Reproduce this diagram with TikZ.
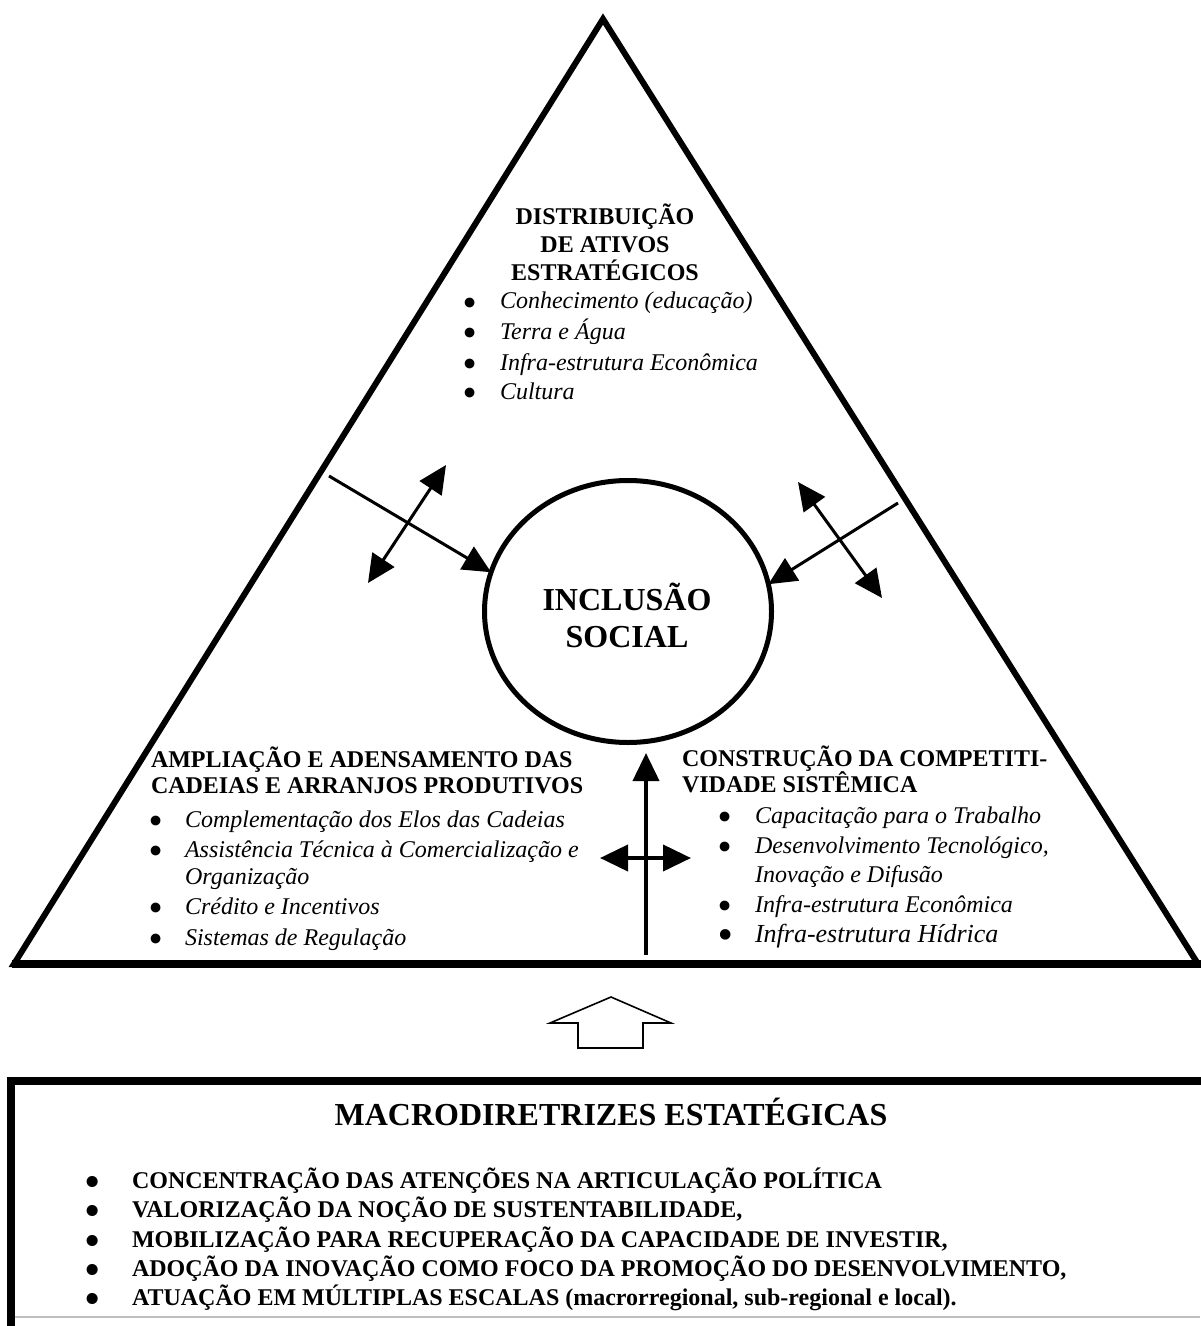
\documentclass[tikz,border=0pt]{standalone}
\usepackage{fontspec}
\setmainfont{Liberation Serif}
\usepackage{graphicx}
\usepackage{tikz}
\usetikzlibrary{arrows.meta, shapes}
\newcommand{\bigdot}{\smash{\raisebox{-3.6pt}{\scalebox{1.7}{\textbullet}}}}

\begin{document}
\begin{tikzpicture}[x=0.5pt, y=-0.5pt, line join=miter,
        every node/.style = {inner sep=0pt, outer sep=0pt, anchor=base west},
        hdr/.style = {font=\fontsize{12pt}{14pt}\selectfont\bfseries},
        lst/.style = {font=\fontsize{12pt}{14pt}\selectfont\itshape},
        boxlst/.style = {font=\fontsize{12pt}{14pt}\selectfont\bfseries},
        bighdr/.style = {anchor=base, font=\fontsize{16pt}{19pt}\selectfont\bfseries},
        oneway/.style = {line width=1.5pt, -{Triangle[length=14pt, width=13pt]}},
        twoway/.style = {line width=1.5pt, {Triangle[length=14pt, width=13pt]}-{Triangle[length=14pt, width=13pt]}}]
        \useasboundingbox (0,0) rectangle (1200,1326);

        \coordinate (apex) at (603,19);
        \coordinate (bl) at (14,964);
        \coordinate (br) at (1198,964);
        \draw[line width=3pt] (bl) -- (apex) -- (br) -- cycle;
        \draw[line width=4pt] (12,964) -- (1215,964);

        \node[draw, ellipse, line width=2.5pt, minimum width=143.5pt, minimum height=131pt, anchor=center] (incl) at (628,611.5) {};
        \node[bighdr] (incl1) at (627,610) {INCLUSÃO};
        \node[bighdr] (incl2) at (627,647) {SOCIAL};

        \node[hdr, anchor=base] (dist1) at (605,225) {DISTRIBUIÇÃO};
        \node[hdr, anchor=base] (dist2) at (605,253) {DE ATIVOS};
        \node[hdr, anchor=base] (dist3) at (605,281) {ESTRATÉGICOS};
        \node[lst] (dist4) at (462,309) {\makebox[19pt][l]{\bigdot}Conhecimento (educação)};
        \node[lst] (dist5) at (462,339) {\makebox[19pt][l]{\bigdot}Terra e Água};
        \node[lst] (dist6) at (462,370) {\makebox[19pt][l]{\bigdot}Infra-estrutura Econômica};
        \node[lst] (dist7) at (462,399) {\makebox[19pt][l]{\bigdot}Cultura};

        \node[hdr] (ampl1) at (151,767) {AMPLIAÇÃO E ADENSAMENTO DAS};
        \node[hdr] (ampl2) at (151,793) {CADEIAS E ARRANJOS PRODUTIVOS};
        \node[lst] (ampl3) at (148,827) {\makebox[18.5pt][l]{\bigdot}Complementação dos Elos das Cadeias};
        \node[lst] (ampl4) at (148,857) {\makebox[18.5pt][l]{\bigdot}Assistência Técnica à Comercialização e};
        \node[lst] (ampl5) at (185,884) {Organização};
        \node[lst] (ampl6) at (148,914) {\makebox[18.5pt][l]{\bigdot}Crédito e Incentivos};
        \node[lst] (ampl7) at (148,945) {\makebox[18.5pt][l]{\bigdot}Sistemas de Regulação};

        \node[hdr] (comp1) at (682,766) {CONSTRUÇÃO DA COMPETITI-};
        \node[hdr] (comp2) at (682,792) {VIDADE SISTÊMICA};
        \node[lst] (comp3) at (717,823) {\makebox[19pt][l]{\bigdot}Capacitação para o Trabalho};
        \node[lst] (comp4) at (717,853) {\makebox[19pt][l]{\bigdot}Desenvolvimento Tecnológico,};
        \node[lst] (comp5) at (755,882) {Inovação e Difusão};
        \node[lst] (comp6) at (717,912) {\makebox[19pt][l]{\bigdot}Infra-estrutura Econômica};
        \node[lst, font=\fontsize{13pt}{15pt}\selectfont\itshape] (comp7) at (717,942) {\makebox[19pt][l]{\bigdot}Infra-estrutura Hídrica};

        \coordinate (l1) at (329,476);
        \draw[oneway] (l1) -- (incl.164);
        \coordinate (l2a) at (368,583);
        \coordinate (l2b) at (446,465);
        \draw[twoway] (l2a) -- (l2b);
        \coordinate (r1) at (898,503);
        \draw[oneway] (r1) -- (incl.11);
        \coordinate (r2a) at (798,482);
        \coordinate (r2b) at (882,598);
        \draw[twoway] (r2a) -- (r2b);
        \coordinate (vb) at (646,955);
        \coordinate (vt) at (646,753);
        \draw[oneway, line width=2pt] (vb) -- (vt);
        \coordinate (hl) at (600,858);
        \coordinate (hr) at (691,858);
        \draw[twoway, line width=2pt] (hl) -- (hr);

        \draw[line width=0.8pt] (611,997) -- (671,1023) -- (643,1023) -- (643,1048) -- (578,1048) -- (578,1023) -- (550,1023) -- cycle;

        \draw[line width=4pt] (11,1345) -- (11,1081) -- (1215,1081) -- (1215,1345);
        \draw[black!25, line width=1pt] (15,1317) -- (1200,1317);
        \node[bighdr] (macro) at (611,1125) {MACRODIRETRIZES ESTATÉGICAS};
        \node[boxlst] (macro1) at (85,1188) {\makebox[23.5pt][l]{\bigdot}CONCENTRAÇÃO DAS ATENÇÕES NA ARTICULAÇÃO POLÍTICA};
        \node[boxlst] (macro2) at (85,1217) {\makebox[23.5pt][l]{\bigdot}VALORIZAÇÃO DA NOÇÃO DE SUSTENTABILIDADE,};
        \node[boxlst] (macro3) at (85,1247) {\makebox[23.5pt][l]{\bigdot}MOBILIZAÇÃO PARA RECUPERAÇÃO DA CAPACIDADE DE INVESTIR,};
        \node[boxlst] (macro4) at (85,1276) {\makebox[23.5pt][l]{\bigdot}ADOÇÃO DA INOVAÇÃO COMO FOCO DA PROMOÇÃO DO DESENVOLVIMENTO,};
        \node[boxlst] (macro5) at (85,1305) {\makebox[23.5pt][l]{\bigdot}ATUAÇÃO EM MÚLTIPLAS ESCALAS (macrorregional, sub-regional e local).};
\end{tikzpicture}
\end{document}
